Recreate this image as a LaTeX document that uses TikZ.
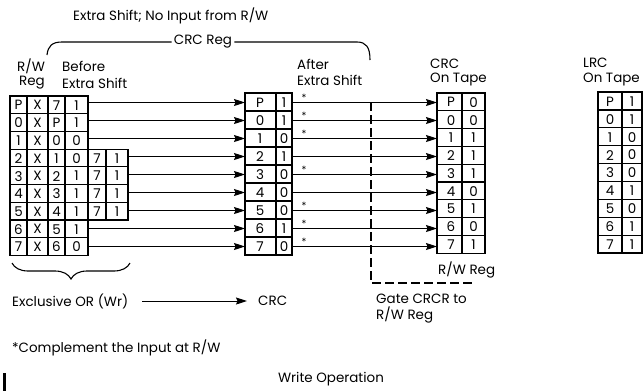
\documentclass[tikz,border=0pt]{standalone}
\usepackage{fontspec}
\setmainfont{Poppins}
\usetikzlibrary{arrows.meta,decorations.pathreplacing}
\begin{document}
\begin{tikzpicture}[x=1bp,y=-1bp,
  font=\fontsize{13.5}{15}\selectfont,
  tab/.style={line width=1.2bp},
  conn/.style={line width=1bp,-{Stealth[length=11bp,width=7bp,inset=1.5bp]}},
  lbl/.style={anchor=west,inner sep=0pt},
  cell/.style={inner sep=0pt},
  star/.style={inner sep=0pt,font=\fontsize{10}{11}\selectfont}]
\useasboundingbox[fill=white] (0,0) rectangle (643,391);

% ---------- left table (R/W Reg + CRC before extra shift)
\draw[tab] (10,96) rectangle (88,255.3);
\foreach \i in {1,...,8} \draw[tab] (10,{96+17.7*\i}) -- (88,{96+17.7*\i});
\draw[tab] (27,96) -- (27,255.3) (65,96) -- (65,255.3);
\draw[line width=2bp] (48,96) -- (48,255.3);
\draw[tab] (88,149.1) rectangle (128,219.9);
\foreach \i in {4,5,6} \draw[tab] (88,{96+17.7*\i}) -- (128,{96+17.7*\i});
\draw[tab] (106,149.1) -- (106,219.9);
\foreach \a/\b/\c/\d [count=\i from 0] in {P/X/7/1,0/X/P/1,1/X/0/0,2/X/1/0,3/X/2/1,4/X/3/1,5/X/4/1,6/X/5/1,7/X/6/0}{
  \node[cell] (la\i) at (18.5,{96+17.7*\i+9.3}) {\a};
  \node[cell] (lb\i) at (37.5,{96+17.7*\i+9.3}) {\b};
  \node[cell] (lc\i) at (56.5,{96+17.7*\i+9.3}) {\c};
  \node[cell] (ld\i) at (76.5,{96+17.7*\i+9.3}) {\d};
}
\foreach \e/\f [count=\i from 3] in {7/1,7/1,7/1,7/1}{
  \node[cell] (le\i) at (97,{96+17.7*\i+9.3}) {\e};
  \node[cell] (lf\i) at (117,{96+17.7*\i+9.3}) {\f};
}

% ---------- middle table (after extra shift)
\draw[tab] (245,93) rectangle (292,255);
\foreach \i in {1,...,8} \draw[tab] (245,{93+18*\i}) -- (292,{93+18*\i});
\draw[tab] (276,93) -- (276,255);
\foreach \a/\b [count=\i from 0] in {P/1,0/1,1/0,2/1,3/0,4/0,5/0,6/1,7/0}{
  \node[cell] (ma\i) at (260,{93+18*\i+9.4}) {\a};
  \node[cell] (mb\i) at (284,{93+18*\i+9.4}) {\b};
}

% ---------- CRC on tape
\draw[tab] (437,93) rectangle (485,253.2);
\foreach \i in {1,...,8} \draw[tab] (437,{93+17.8*\i}) -- (485,{93+17.8*\i});
\draw[tab] (462,93) -- (462,253.2);
\foreach \a/\b [count=\i from 0] in {P/0,0/0,1/1,2/1,3/1,4/0,5/1,6/0,7/1}{
  \node[cell] (ca\i) at (451,{93+17.8*\i+9.3}) {\a};
  \node[cell] (cb\i) at (473.5,{93+17.8*\i+9.3}) {\b};
}

% ---------- LRC on tape
\draw[tab] (598,92) rectangle (642,253);
\foreach \i in {1,...,8} \draw[tab] (598,{92+17.9*\i}) -- (642,{92+17.9*\i});
\draw[tab] (622,92) -- (622,253);
\foreach \a/\b [count=\i from 0] in {P/1,0/1,1/0,2/0,3/0,4/1,5/0,6/1,7/1}{
  \node[cell] (ra\i) at (610,{92+17.9*\i+9.35}) {\a};
  \node[cell] (rb\i) at (632,{92+17.9*\i+9.35}) {\b};
}

% ---------- connectors
\foreach \i in {0,...,8}{
  \pgfmathsetmacro{\yc}{102.5+18*\i}
  \coordinate (m\i) at (245,\yc);
  \coordinate (n\i) at (292,\yc);
  \coordinate (c\i) at (437,\yc);
}
\foreach \i in {0,1,2,7,8} \coordinate (l\i) at (88,{102.5+18*\i});
\foreach \i in {3,4,5,6} \coordinate (l\i) at (128,{102.5+18*\i});
\foreach \i in {0,...,8}{
  \draw[conn] (l\i) -- (m\i);
  \draw[conn] (n\i) -- (c\i);
}
% complement marks
\foreach \i in {0,1,2,4,6,7,8}
  \node[star] (s\i) at (304,{102.5+18*\i-5}) {*};

% ---------- gate CRCR dashed line
\coordinate (g1) at (371,102);
\coordinate (g2) at (371,283);
\coordinate (g3) at (473,283);
\draw[line width=1.3bp,dash pattern=on 9bp off 4bp] (g1) -- (g2) -- (g3);

% ---------- headings
\node[lbl] (t1) at (73,16) {Extra Shift; No Input from R/W};
\node[inner sep=2pt] (crcreg) at (203,42) {CRC Reg};
\draw[line width=1.1bp] (47,55) .. controls (48,46) and (52,42) .. (62,42) -- (crcreg.west);
\draw[line width=1.1bp] (crcreg.east) -- (357,42) .. controls (366,42) and (370,47) .. (370,60);
\node[lbl] (h1) at (17,66) {R/W};
\node[lbl] (h2) at (19,83) {Reg};
\node[lbl] (h3) at (62,66) {Before};
\node[lbl] (h4) at (62,83) {Extra Shift};
\node[lbl] (h5) at (297,64) {After};
\node[lbl] (h6) at (297,80) {Extra Shift};
\node[lbl] (h7) at (430,64) {CRC};
\node[lbl] (h8) at (430,80) {On Tape};
\node[lbl] (h9) at (583,63) {LRC};
\node[lbl] (h10) at (583,80) {On Tape};
\node[lbl] (h11) at (438,270) {R/W Reg};

% ---------- brace and bottom texts
\draw[line width=1.1bp,decorate,decoration={brace,amplitude=16bp}] (130,263) -- (12,263);
\node[lbl] (xor) at (12,301) {Exclusive OR (Wr)};
\coordinate (a1) at (142,301);
\coordinate (a2) at (247,301);
\draw[conn] (a1) -- (a2);
\node[lbl] (crcb) at (258,301) {CRC};
\node[lbl] (gate1) at (376,299) {Gate CRCR to};
\node[lbl] (gate2) at (376,315) {R/W Reg};
\node[lbl] (note) at (12,348) {*Complement the Input at R/W};
\node[inner sep=0pt] (title) at (331,379) {Write Operation};
\draw[line width=3bp] (4.5,373) -- (4.5,391);
\end{tikzpicture}
\end{document}
